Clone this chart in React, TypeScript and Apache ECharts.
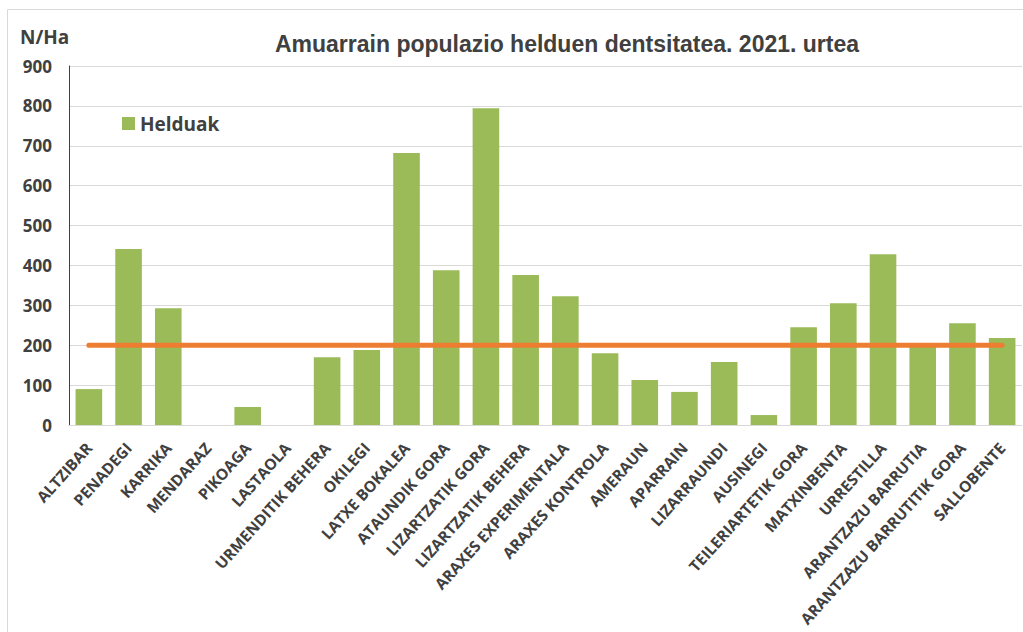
import React, { useEffect, useRef } from "react";
import * as echarts from "echarts";

const categories = [
  "ALTZIBAR", "PENADEGI", "KARRIKA", "MENDARAZ", "PIKOAGA", "LASTAOLA",
  "URMENDITIK BEHERA", "OKILEGI", "LATXE BOKALEA", "ATAUNDIK GORA",
  "LIZARTZATIK GORA", "LIZARTZATIK BEHERA", "ARAXES EXPERIMENTALA",
  "ARAXES KONTROLA", "AMERAUN", "APARRAIN", "LIZARRAUNDI", "AUSINEGI",
  "TEILERIARTETIK GORA", "MATXINBENTA", "URRESTILLA", "ARANTZAZU BARRUTIA",
  "ARANTZAZU BARRUTITIK GORA", "SALLOBENTE",
];
const helduak = [
  90, 441, 293, 0, 45, 0, 170, 188, 682, 388, 794, 376, 323, 180, 113, 83,
  158, 25, 245, 305, 428, 200, 255, 218,
];
const threshold = categories.map(() => 200);

export default function App() {
  const ref = useRef<HTMLDivElement>(null);
  useEffect(() => {
    document.body.style.margin = "0";
    const chart = echarts.init(ref.current!, null, { renderer: "svg" });
    chart.setOption({
      animation: false,
      backgroundColor: "#ffffff",
      title: {
        text: "Amuarrain populazio helduen dentsitatea. 2021. urtea",
        left: 562,
        textAlign: "center",
        top: 27,
        textStyle: {
          fontFamily: "Liberation Sans",
          fontWeight: "bold",
          fontSize: 23,
          color: "#404040",
        },
      },
      graphic: [
        {
          type: "rect",
          shape: { x: 7.5, y: 9.5, width: 1040, height: 640 },
          style: { fill: "none", stroke: "#d9d9d9", lineWidth: 1 },
          silent: true,
        },
        {
          type: "text",
          left: 20,
          top: 27,
          style: {
            text: "N/Ha",
            fontFamily: "Open Sans",
            fontWeight: "bold",
            fontSize: 19,
            fill: "#404040",
          },
        },
      ],
      legend: {
        data: ["Helduak"],
        left: 122,
        top: 114,
        padding: 0,
        itemWidth: 13,
        itemHeight: 13,
        itemGap: 7,
        icon: "rect",
        textStyle: {
          fontFamily: "Open Sans",
          fontWeight: "bold",
          fontSize: 19,
          color: "#404040",
        },
      },
      grid: { left: 69, right: 1, top: 66, bottom: 207, containLabel: false },
      xAxis: {
        type: "category",
        data: categories,
        axisLine: { lineStyle: { color: "#d9d9d9", width: 1 } },
        axisTick: { show: false },
        axisLabel: {
          interval: 0,
          rotate: 48,
          margin: 20,
          fontFamily: "Open Sans",
          fontWeight: "bold",
          fontSize: 15.5,
          color: "#404040",
        },
      },
      yAxis: {
        type: "value",
        min: 0,
        max: 900,
        interval: 100,
        axisLine: { show: true, lineStyle: { color: "#404040", width: 1 } },
        axisTick: { show: false },
        splitLine: { lineStyle: { color: "#d9d9d9", width: 1 } },
        axisLabel: {
          margin: 17,
          fontFamily: "Open Sans",
          fontWeight: "bold",
          fontSize: 17,
          color: "#404040",
        },
      },
      series: [
        {
          name: "Helduak",
          type: "bar",
          data: helduak,
          barCategoryGap: "33%",
          itemStyle: { color: "#9BBB59" },
          z: 2,
        },
        {
          name: "Muga",
          type: "line",
          data: threshold,
          symbol: "none",
          lineStyle: { color: "#ED7D31", width: 5, cap: "round" },
          z: 3,
        },
      ],
    });
    return () => chart.dispose();
  }, []);
  return <div ref={ref} style={{ width: 1023, height: 632 }} />;
}
